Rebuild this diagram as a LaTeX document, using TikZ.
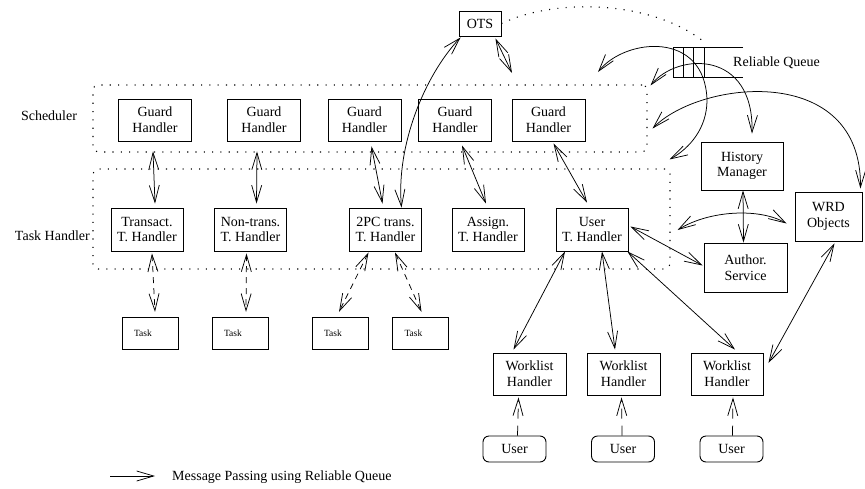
\documentclass[tikz,border=0pt]{standalone}
\usepackage{fontspec}
\setmainfont{Liberation Serif}
\usetikzlibrary{arrows.meta,calc}
\tikzset{
  barb/.tip={Straight Barb[length=17pt,width=10pt]},
  box/.style={draw, line width=0.9pt, align=center, inner sep=0pt},
  gbox/.style={box, minimum width=73pt, minimum height=42pt},
  tbox/.style={box, minimum width=72pt, minimum height=43pt},
  wbox/.style={box, minimum width=73pt, minimum height=42pt},
  taskbox/.style={box, align=left, text width=32pt, inner xsep=12pt, minimum height=32pt, font=\fontsize{9.5}{11}\selectfont},
  userbox/.style={box, rounded corners=6pt, minimum width=63pt, minimum height=26pt},
  dotbox/.style={draw, line width=1.1pt, dash pattern=on 1.1pt off 7.2pt, rounded corners=5pt, inner sep=0pt},
  both/.style={line width=0.75pt, barb-barb},
  one/.style={line width=0.75pt, -barb},
  dashboth/.style={both, dash pattern=on 6pt off 5pt},
  dashone/.style={one, dash pattern=on 10pt off 7pt},
}
\begin{document}
\begin{tikzpicture}[x=1pt, y=-1pt, font=\fontsize{14}{15.6}\selectfont]
\useasboundingbox (0,0) rectangle (865,488);

% dotted layer frames
\node[dotbox, minimum width=554pt, minimum height=67pt] (sched) at (370,118.5) {};
\node[dotbox, minimum width=577pt, minimum height=100pt] (th) at (381.5,219) {};
\node (lsched) at (49,116) {Scheduler};
\node[anchor=east, inner sep=0pt] (lth) at (90,236) {Task Handler};

% transaction service
\node[box, minimum width=42pt, minimum height=25pt] (OTS) at (480,23.5) {OTS};

% reliable queue
\draw[line width=0.8pt] (743,47) -- (673,47) -- (673,77) -- (743,77);
\draw[line width=0.8pt] (683,47) -- (683,77) (693,47) -- (693,77) (704,47) -- (704,77);
\coordinate (qtop) at (703,41);
\node[anchor=west, inner sep=0pt] (rq) at (733,63) {Reliable Queue};

% scheduler row
\node[gbox] (G1) at (155,120) {Guard\\Handler};
\node[gbox] (G2) at (264,120) {Guard\\Handler};
\node[gbox] (G3) at (364.5,120) {Guard\\Handler};
\node[gbox] (G4) at (455,120) {Guard\\Handler};
\node[gbox] (G5) at (548.5,120) {Guard\\Handler};

% task handler row
\node[tbox] (T1) at (147,229.5) {Transact.\\T. Handler};
\node[tbox] (T2) at (250.5,229.5) {Non-trans.\\T. Handler};
\node[tbox] (T3) at (385.5,229.5) {2PC trans.\\T. Handler};
\node[tbox] (T4) at (488,229.5) {Assign.\\T. Handler};
\node[tbox] (T5) at (592,229.5) {User\\T. Handler};

% tasks
\node[taskbox] (K1) at (150,333.3) {Task};
\node[taskbox] (K2) at (240,333.3) {Task};
\node[taskbox] (K3) at (340,333.3) {Task};
\node[taskbox] (K4) at (420.5,333.3) {Task};

% services
\node[box, minimum width=82pt, minimum height=48pt] (HM) at (742,166) {History\\Manager};
\node[box, minimum width=67pt, minimum height=49pt] (WRD) at (828.5,216.5) {WRD\\Objects};
\node[box, minimum width=83pt, minimum height=49pt] (AS) at (745.5,267.5) {Author.\\Service};

% worklists and users
\node[wbox] (W1) at (529.5,374) {Worklist\\Handler};
\node[wbox] (W2) at (623.5,374) {Worklist\\Handler};
\node[wbox, minimum width=72pt] (W3) at (727,374) {Worklist\\Handler};
\node[userbox] (U1) at (514.5,449) {User};
\node[userbox] (U2) at (623,449) {User};
\node[userbox] (U3) at (731.5,449) {User};

% guard handler <-> task handler
\draw[both] ($(G1.south)+(-2,10)$) -- ($(T1.north)+(8,-4)$);
\draw[both] ($(G2.south)+(-7,10)$) -- ($(T2.north)+(6,-4)$);
\draw[both] ($(G3.south)+(7,5)$) -- ($(T3.north)+(-3,-4)$);
\draw[both] ($(G4.south)+(7,4)$) -- ($(T4.north)+(-2,-4)$);
\draw[both] ($(G5.south)+(5,2)$) -- ($(T5.north)+(-5,-5)$);

% OTS links
\draw[both] ($(OTS.south west)+(2,1)$) .. controls (425,75) and (396,145) .. ($(T3.north)+(16,0)$);
\coordinate (otsend) at (512,73);
\draw[both] ($(OTS.south east)+(-6,2)$) -- (otsend);
\draw[line width=1.1pt, dash pattern=on 1.1pt off 7.2pt] (OTS.east) .. controls (555,-2) and (650,0) .. (qtop);

% reliable queue deliveries
\coordinate (qa) at (598,72);
\draw[both] (qa) .. controls (625,38) and (705,30) .. (707,100)
            .. controls (707,128) and (690,148) .. ($(th.north east)+(-1,-9)$);
\draw[both] ($(sched.north east)+(3,1)$) .. controls (678,52) and (754,50) .. ($(HM.north)+(10,-8)$);
\draw[both] ($(sched.east)+(5,10)$) .. controls (700,80) and (862,62) .. ($(WRD.north east)+(-2,-3)$);

% service links
\draw[both] ($(HM.south)+(1,0)$) -- ($(AS.north)+(-2,0)$);
\draw[both] ($(th.east)+(7,11)$) .. controls (710,210) and (760,208) .. ($(WRD.west)+(-8,7)$);
\draw[both] ($(T5.east)+(2,-3)$) -- ($(AS.west)+(-1,-2)$);
\draw[both] ($(T5.south)+(-27,0)$) -- ($(W1.north)+(-16,-3)$);
\draw[both] ($(T5.south)+(10,0)$) -- ($(W2.north)+(-8.5,-3)$);
\draw[both] ($(T5.south east)+(-1,0)$) -- ($(W3.north)+(8,-3)$);
\draw[both] ($(WRD.south)+(6,2)$) -- ($(W3.east)+(5,-11)$);

% users to worklists
\draw[dashone] ($(U1.north)+(3,0)$) -- ($(W1.south)+(-11,2)$);
\draw[dashone] ($(U2.north)+(-1,0)$) -- ($(W2.south)+(-2,2)$);
\draw[dashone] ($(U3.north)+(1,0)$) -- ($(W3.south)+(6,2)$);

% task handlers to tasks
\draw[dashboth] ($(T1.south)+(5,2)$) -- ($(K1.north)+(5,-5)$);
\draw[dashboth] ($(T2.south)+(-4,2)$) -- ($(K2.north)+(6,-5)$);
\draw[dashboth] ($(T3.south)+(-17,1)$) -- ($(K3.north)+(-1,-5)$);
\draw[dashboth] ($(T3.south)+(9.5,1)$) -- ($(K4.north)+(1,-5)$);

% legend
\coordinate (legA) at (110,476);
\coordinate (legB) at (155,476);
\draw[one] (legA) -- (legB);
\node[anchor=west, inner sep=0pt] (legtext) at (172,477) {Message Passing using Reliable Queue};
\end{tikzpicture}
\end{document}
